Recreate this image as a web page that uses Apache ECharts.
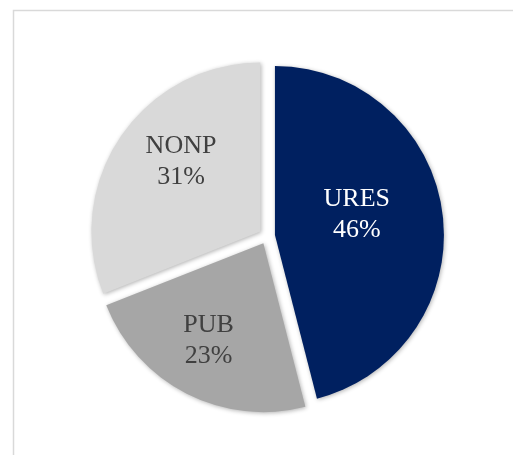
<!DOCTYPE html>
<html>
<head>
<meta charset="utf-8">
<script src="https://cdn.jsdelivr.net/npm/echarts@6/dist/echarts.min.js"></script>
<style>
    html, body { margin: 0; padding: 0; background: #fff; }
    #chart { width: 513px; height: 455px; }
</style>
</head>
<body>
<div id="chart"></div>
<script>
const categories = ['URES', 'PUB', 'NONP']
const shares = [46, 23, 31]
const sliceColors = ['#002060', '#A6A6A6', '#D9D9D9']
const labelColors = ['#ffffff', '#404040', '#404040']
// nudge labels to where the original placed them
const labelShift = [[-5, -9], [-15, 20], [-7, -21]]

let chart = echarts.init(document.getElementById('chart'))

let pieData = categories.map((name, i) => ({
    name: name,
    value: shares[i],
    selected: true,
    itemStyle: { color: sliceColors[i] },
    label: { color: labelColors[i] }
}))

let options = {
    animation: false,
    graphic: [{
        type: 'rect',
        shape: { x: 13.5, y: 10.5, width: 700, height: 700 },
        style: { fill: 'none', stroke: '#D9D9D9', lineWidth: 1.5 },
        silent: true
    }],
    series: [{
        type: 'pie',
        center: [267, 236],
        radius: [0, 169],
        startAngle: 90,
        clockwise: true,
        selectedMode: 'multiple',
        selectedOffset: 8,
        emphasis: { disabled: true },
        itemStyle: {
            borderWidth: 0,
            shadowColor: 'rgba(0,0,0,0.3)',
            shadowBlur: 4,
            shadowOffsetX: 1,
            shadowOffsetY: 1
        },
        labelLine: { show: false },
        label: {
            show: true,
            position: 'inside',
            fontFamily: '"Liberation Serif", "Times New Roman", serif',
            fontSize: 26,
            lineHeight: 31,
            textBorderWidth: 0,
            formatter: (p) => p.name + '\n' + Math.round(p.percent) + '%'
        },
        labelLayout: (params) => ({
            dx: labelShift[params.dataIndex][0],
            dy: labelShift[params.dataIndex][1]
        }),
        data: pieData
    }]
}
chart.setOption(options)
</script>
</body>
</html>
